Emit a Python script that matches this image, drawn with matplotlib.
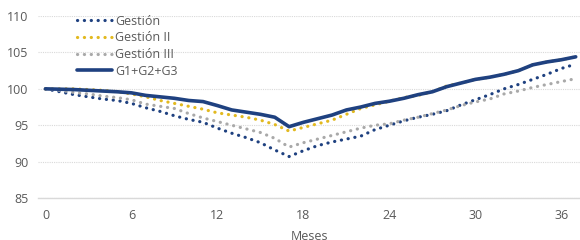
import numpy as np
import matplotlib.pyplot as plt

plt.rcParams['font.family'] = ['Open Sans', 'DejaVu Sans']

meses = np.arange(0, 38)

total = [100.0, 99.95, 99.9, 99.8, 99.7, 99.6, 99.45, 99.1, 98.9, 98.7,
         98.4, 98.25, 97.7, 97.1, 96.8, 96.5, 96.1, 94.8, 95.4, 95.9,
         96.4, 97.1, 97.5, 98.0, 98.3, 98.7, 99.2, 99.6, 100.3, 100.8,
         101.3, 101.6, 102.0, 102.5, 103.3, 103.7, 104.0, 104.4]

gestion2 = [100.0, 100.0, 100.0, 99.9, 99.8, 99.6, 99.3, 98.9, 98.4, 98.0,
            97.6, 97.2, 96.7, 96.4, 96.1, 95.7, 95.1, 94.2, 94.7, 95.2,
            95.7, 96.5, 97.3, 97.8, 98.3, 98.8, 99.1, 99.6, 100.4, 100.8,
            101.3, 101.6, 102.0, 102.5, 103.3, 103.7, 104.0, 104.4]

gestion3 = [100.0, 99.8, 99.5, 99.3, 99.0, 98.8, 98.5, 97.9, 97.6, 97.3,
            96.6, 96.0, 95.5, 95.0, 94.5, 94.0, 93.2, 92.0, 92.6, 93.1,
            93.6, 94.1, 94.6, 95.0, 95.2, 95.7, 96.1, 96.6, 97.1, 97.7,
            98.2, 98.6, 99.3, 99.7, 100.2, 100.6, 101.0, 101.4]

gestion1 = [100.0, 99.6, 99.2, 98.9, 98.6, 98.4, 98.0, 97.4, 96.9, 96.3,
            95.8, 95.4, 94.6, 93.9, 93.3, 92.6, 91.6, 90.7, 91.5, 92.2,
            92.7, 93.1, 93.5, 94.4, 95.0, 95.6, 96.1, 96.5, 97.0, 97.8,
            98.5, 99.2, 100.0, 100.6, 101.3, 102.0, 102.8, 103.4]

xticks = [0, 6, 12, 18, 24, 30, 36]
yticks = [85, 90, 95, 100, 105, 110]

azul = '#1F4180'
amarillo = '#E2B91F'
gris = '#A9A9A9'
txt = '#595959'
fs = 9

fig = plt.figure(figsize=(5.8, 2.4), dpi=100)
ax = fig.add_axes([0.066, 0.175, 0.934, 0.758])

dot = (0, (0.05, 2.1))
ax.plot(meses, gestion1, color=azul, lw=2.3, linestyle=dot, dash_capstyle='round', label='Gestión')
ax.plot(meses, gestion2, color=amarillo, lw=2.3, linestyle=dot, dash_capstyle='round', label='Gestión II')
ax.plot(meses, gestion3, color=gris, lw=2.3, linestyle=dot, dash_capstyle='round', label='Gestión III')
ax.plot(meses, total, color=azul, lw=2.6, solid_capstyle='round', label='G1+G2+G3')

ax.set_xlim(-0.5, 37.3)
ax.set_ylim(85, 110)
ax.set_xticks(xticks)
ax.set_yticks(yticks)
ax.yaxis.grid(True, color='#D9D9D9', linestyle=(0, (1, 1)), lw=0.8)
ax.set_axisbelow(True)
for s in ['top', 'right', 'left']:
    ax.spines[s].set_visible(False)
ax.spines['bottom'].set_color('#D9D9D9')
ax.spines['bottom'].set_linewidth(1.0)
ax.tick_params(axis='both', length=0, labelsize=fs, colors=txt)
ax.tick_params(axis='x', pad=8)
ax.tick_params(axis='y', pad=7)
ax.set_xlabel('Meses', fontsize=fs, color=txt, labelpad=6)

leg = ax.legend(loc='upper left', bbox_to_anchor=(0.05, 1.07), frameon=False,
                fontsize=fs, handlelength=2.8, handletextpad=0.3, labelspacing=0.3)
for t in leg.get_texts():
    t.set_color(txt)

plt.savefig('out.png', dpi=100)
plt.close()
